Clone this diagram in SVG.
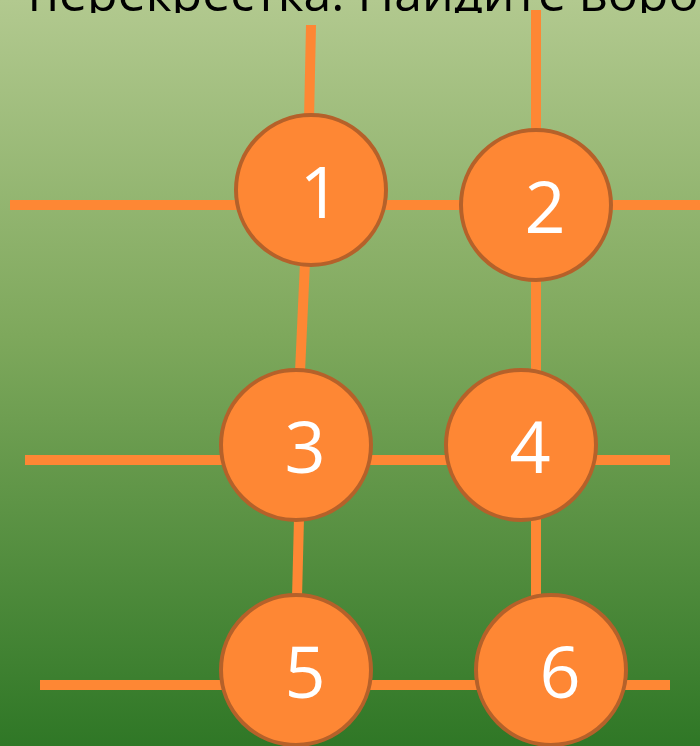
<svg xmlns="http://www.w3.org/2000/svg" width="700" height="746" viewBox="0 0 700 746">
<defs>
<linearGradient id="bg" x1="0" y1="0" x2="0" y2="1">
<stop offset="0" stop-color="#b2c98f"/>
<stop offset="0.45" stop-color="#7ea85c"/>
<stop offset="1" stop-color="#2f7726"/>
</linearGradient>
<clipPath id="topclip"><rect x="0" y="0" width="700" height="13"/></clipPath>
<style>
.edge{stroke:#fe8734;stroke-width:10;fill:none}
.node circle{fill:#fe8734;stroke:#b5612a;stroke-width:4}
.node text{fill:#ffffff;font-family:"Open Sans","Noto Sans",sans-serif;font-size:72px;text-anchor:middle}
.title{fill:#000;font-family:"Open Sans","Noto Sans",sans-serif;font-size:50px}
</style>
</defs>
<rect x="0" y="0" width="700" height="746" fill="url(#bg)"/>
<g clip-path="url(#topclip)">
<text class="title" x="28" y="11">перекрестка. Найдите воро</text>
</g>
<g id="connectors">
<line class="edge" x1="10" y1="205" x2="700" y2="205"/>
<line class="edge" x1="25" y1="460" x2="670" y2="460"/>
<line class="edge" x1="40" y1="685" x2="670" y2="685"/>
<line class="edge" x1="311" y1="25" x2="309" y2="120"/>
<line class="edge" x1="305" y1="262" x2="300" y2="372"/>
<line class="edge" x1="299" y1="518" x2="297" y2="598"/>
<line class="edge" x1="536" y1="10" x2="536" y2="132"/>
<line class="edge" x1="536" y1="278" x2="536" y2="372"/>
<line class="edge" x1="536" y1="518" x2="536" y2="600"/>
</g>
<g id="node1" class="node"><circle cx="311" cy="190" r="75"/><text x="320" y="218">1</text></g>
<g id="node2" class="node"><circle cx="536" cy="205" r="75"/><text x="545" y="233">2</text></g>
<g id="node3" class="node"><circle cx="296" cy="445" r="75"/><text x="305" y="473">3</text></g>
<g id="node4" class="node"><circle cx="521" cy="445" r="75"/><text x="530" y="473">4</text></g>
<g id="node5" class="node"><circle cx="296" cy="670" r="75"/><text x="305" y="698">5</text></g>
<g id="node6" class="node"><circle cx="551" cy="670" r="75"/><text x="560" y="698">6</text></g>
</svg>
